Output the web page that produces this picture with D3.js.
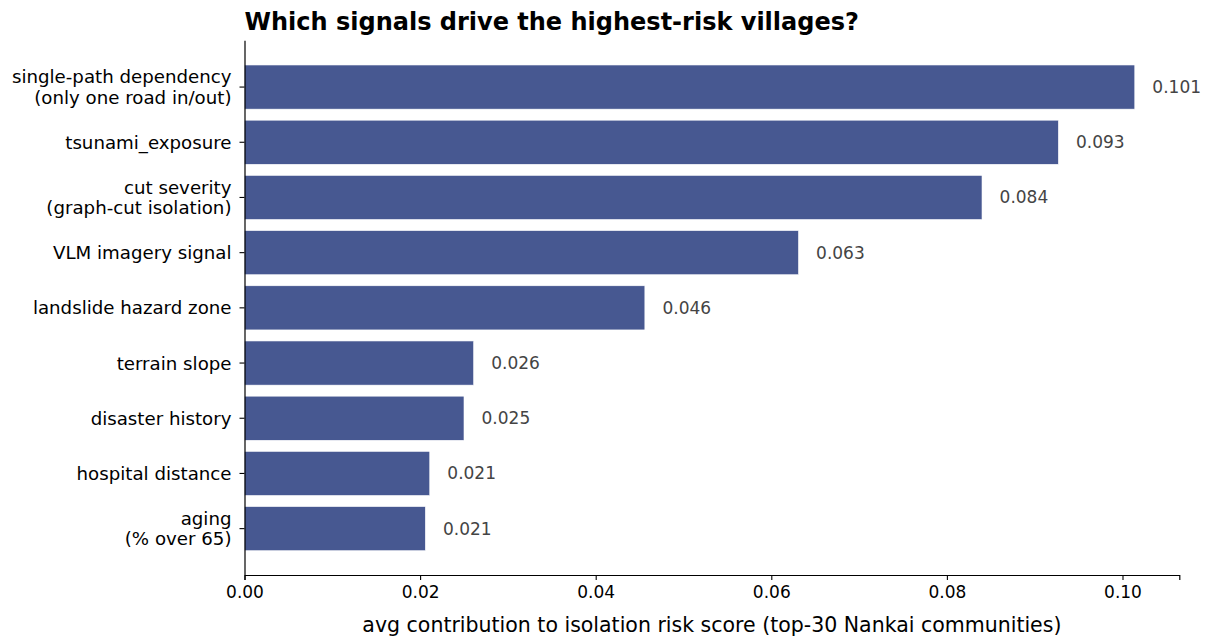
<!DOCTYPE html>
<html>
<head>
<meta charset="utf-8">
<script src="https://cdn.jsdelivr.net/npm/d3@7"></script>
<style>
  html, body { margin: 0; padding: 0; background: #fff; }
  svg { display: block; }
  text { font-family: "DejaVu Sans", sans-serif; }
</style>
</head>
<body>
<svg id="chart" width="1210" height="636"></svg>
<script>
// Feature labels (multi-line labels split on "\n"), top to bottom
const categories = [
  "single-path dependency\n(only one road in/out)",
  "tsunami_exposure",
  "cut severity\n(graph-cut isolation)",
  "VLM imagery signal",
  "landslide hazard zone",
  "terrain slope",
  "disaster history",
  "hospital distance",
  "aging\n(% over 65)"
];
// Mean contribution of each signal to the isolation risk score
const contributions = [0.1014, 0.0927, 0.0840, 0.0631, 0.0456, 0.0261, 0.0250, 0.0211, 0.0206];
const xTicks = [0.00, 0.02, 0.04, 0.06, 0.08, 0.10];

const title = "Which signals drive the highest-risk villages?";
const xLabel = "avg contribution to isolation risk score (top-30 Nankai communities)";

const svg = d3.select("#chart");
const plotLeft = 244.5, plotRight = 1179.3, plotTop = 40.7, plotBottom = 575;
const labelFont = '"DejaVu Sans", sans-serif';
const catSize = 18.2;
const tickSize = 17;

const xMax = d3.max(contributions) * 1.05;
const x = d3.scaleLinear().domain([0, xMax]).range([plotLeft, plotRight]);
const y = d3.scaleBand().domain(categories).range([plotTop, plotBottom])
  .paddingInner(0.2).paddingOuter(0.44);

// Bars
svg.append("g").selectAll("rect")
  .data(categories)
  .join("rect")
  .attr("x", x(0))
  .attr("y", d => y(d))
  .attr("width", (d, i) => x(contributions[i]) - x(0))
  .attr("height", y.bandwidth())
  .attr("fill", "#475891")
  .attr("stroke", "#ffffff")
  .attr("stroke-width", 0.6);

// Value labels to the right of each bar
svg.append("g").selectAll("text")
  .data(categories)
  .join("text")
  .attr("x", (d, i) => x(contributions[i] + 0.002))
  .attr("y", d => y(d) + y.bandwidth() / 2)
  .attr("dy", "0.35em")
  .attr("font-size", tickSize)
  .attr("fill", "#444444")
  .text((d, i) => d3.format(".3f")(contributions[i]));

// X axis
const xAxis = svg.append("g")
  .attr("transform", `translate(0,${plotBottom})`)
  .call(d3.axisBottom(x).tickValues(xTicks).tickFormat(d3.format(".2f")).tickSizeOuter(0).tickSize(5).tickPadding(6));
xAxis.select(".domain").attr("stroke", "#000").attr("stroke-width", 1.2);
xAxis.selectAll(".tick line").attr("stroke", "#000").attr("stroke-width", 1.1);
xAxis.selectAll(".tick text").attr("font-size", tickSize).attr("fill", "#000")
  .style("font-family", labelFont);

// Y axis with multi-line labels
const yAxis = svg.append("g")
  .attr("transform", `translate(${plotLeft},0)`)
  .call(d3.axisLeft(y).tickSizeOuter(0).tickSize(5).tickPadding(7).tickFormat(""));
yAxis.select(".domain").attr("stroke", "#000").attr("stroke-width", 1.2)
  .attr("d", `M0.5,${plotTop}V${plotBottom}`);
yAxis.selectAll(".tick line").attr("stroke", "#000").attr("stroke-width", 1.1);
yAxis.selectAll(".tick text").each(function(d) {
  const lines = d.split("\n");
  const t = d3.select(this)
    .attr("font-size", catSize)
    .attr("fill", "#000")
    .style("font-family", labelFont)
    .attr("dy", null)
    .attr("x", -13);
  const lh = 20.5;
  const startDy = -(lines.length - 1) * lh / 2;
  lines.forEach((line, k) => {
    t.append("tspan")
      .attr("x", -13)
      .attr("y", 0)
      .attr("dy", (startDy + k * lh + 6.5) + "px")
      .text(line);
  });
});

// Title
svg.append("text")
  .attr("x", plotLeft)
  .attr("y", 30)
  .attr("font-size", 24)
  .attr("font-weight", 700)
  .attr("fill", "#000")
  .text(title);

// X axis title
svg.append("text")
  .attr("x", (plotLeft + plotRight) / 2)
  .attr("y", 632)
  .attr("text-anchor", "middle")
  .attr("font-size", 20.5)
  .attr("fill", "#000")
  .text(xLabel);
</script>
</body>
</html>
